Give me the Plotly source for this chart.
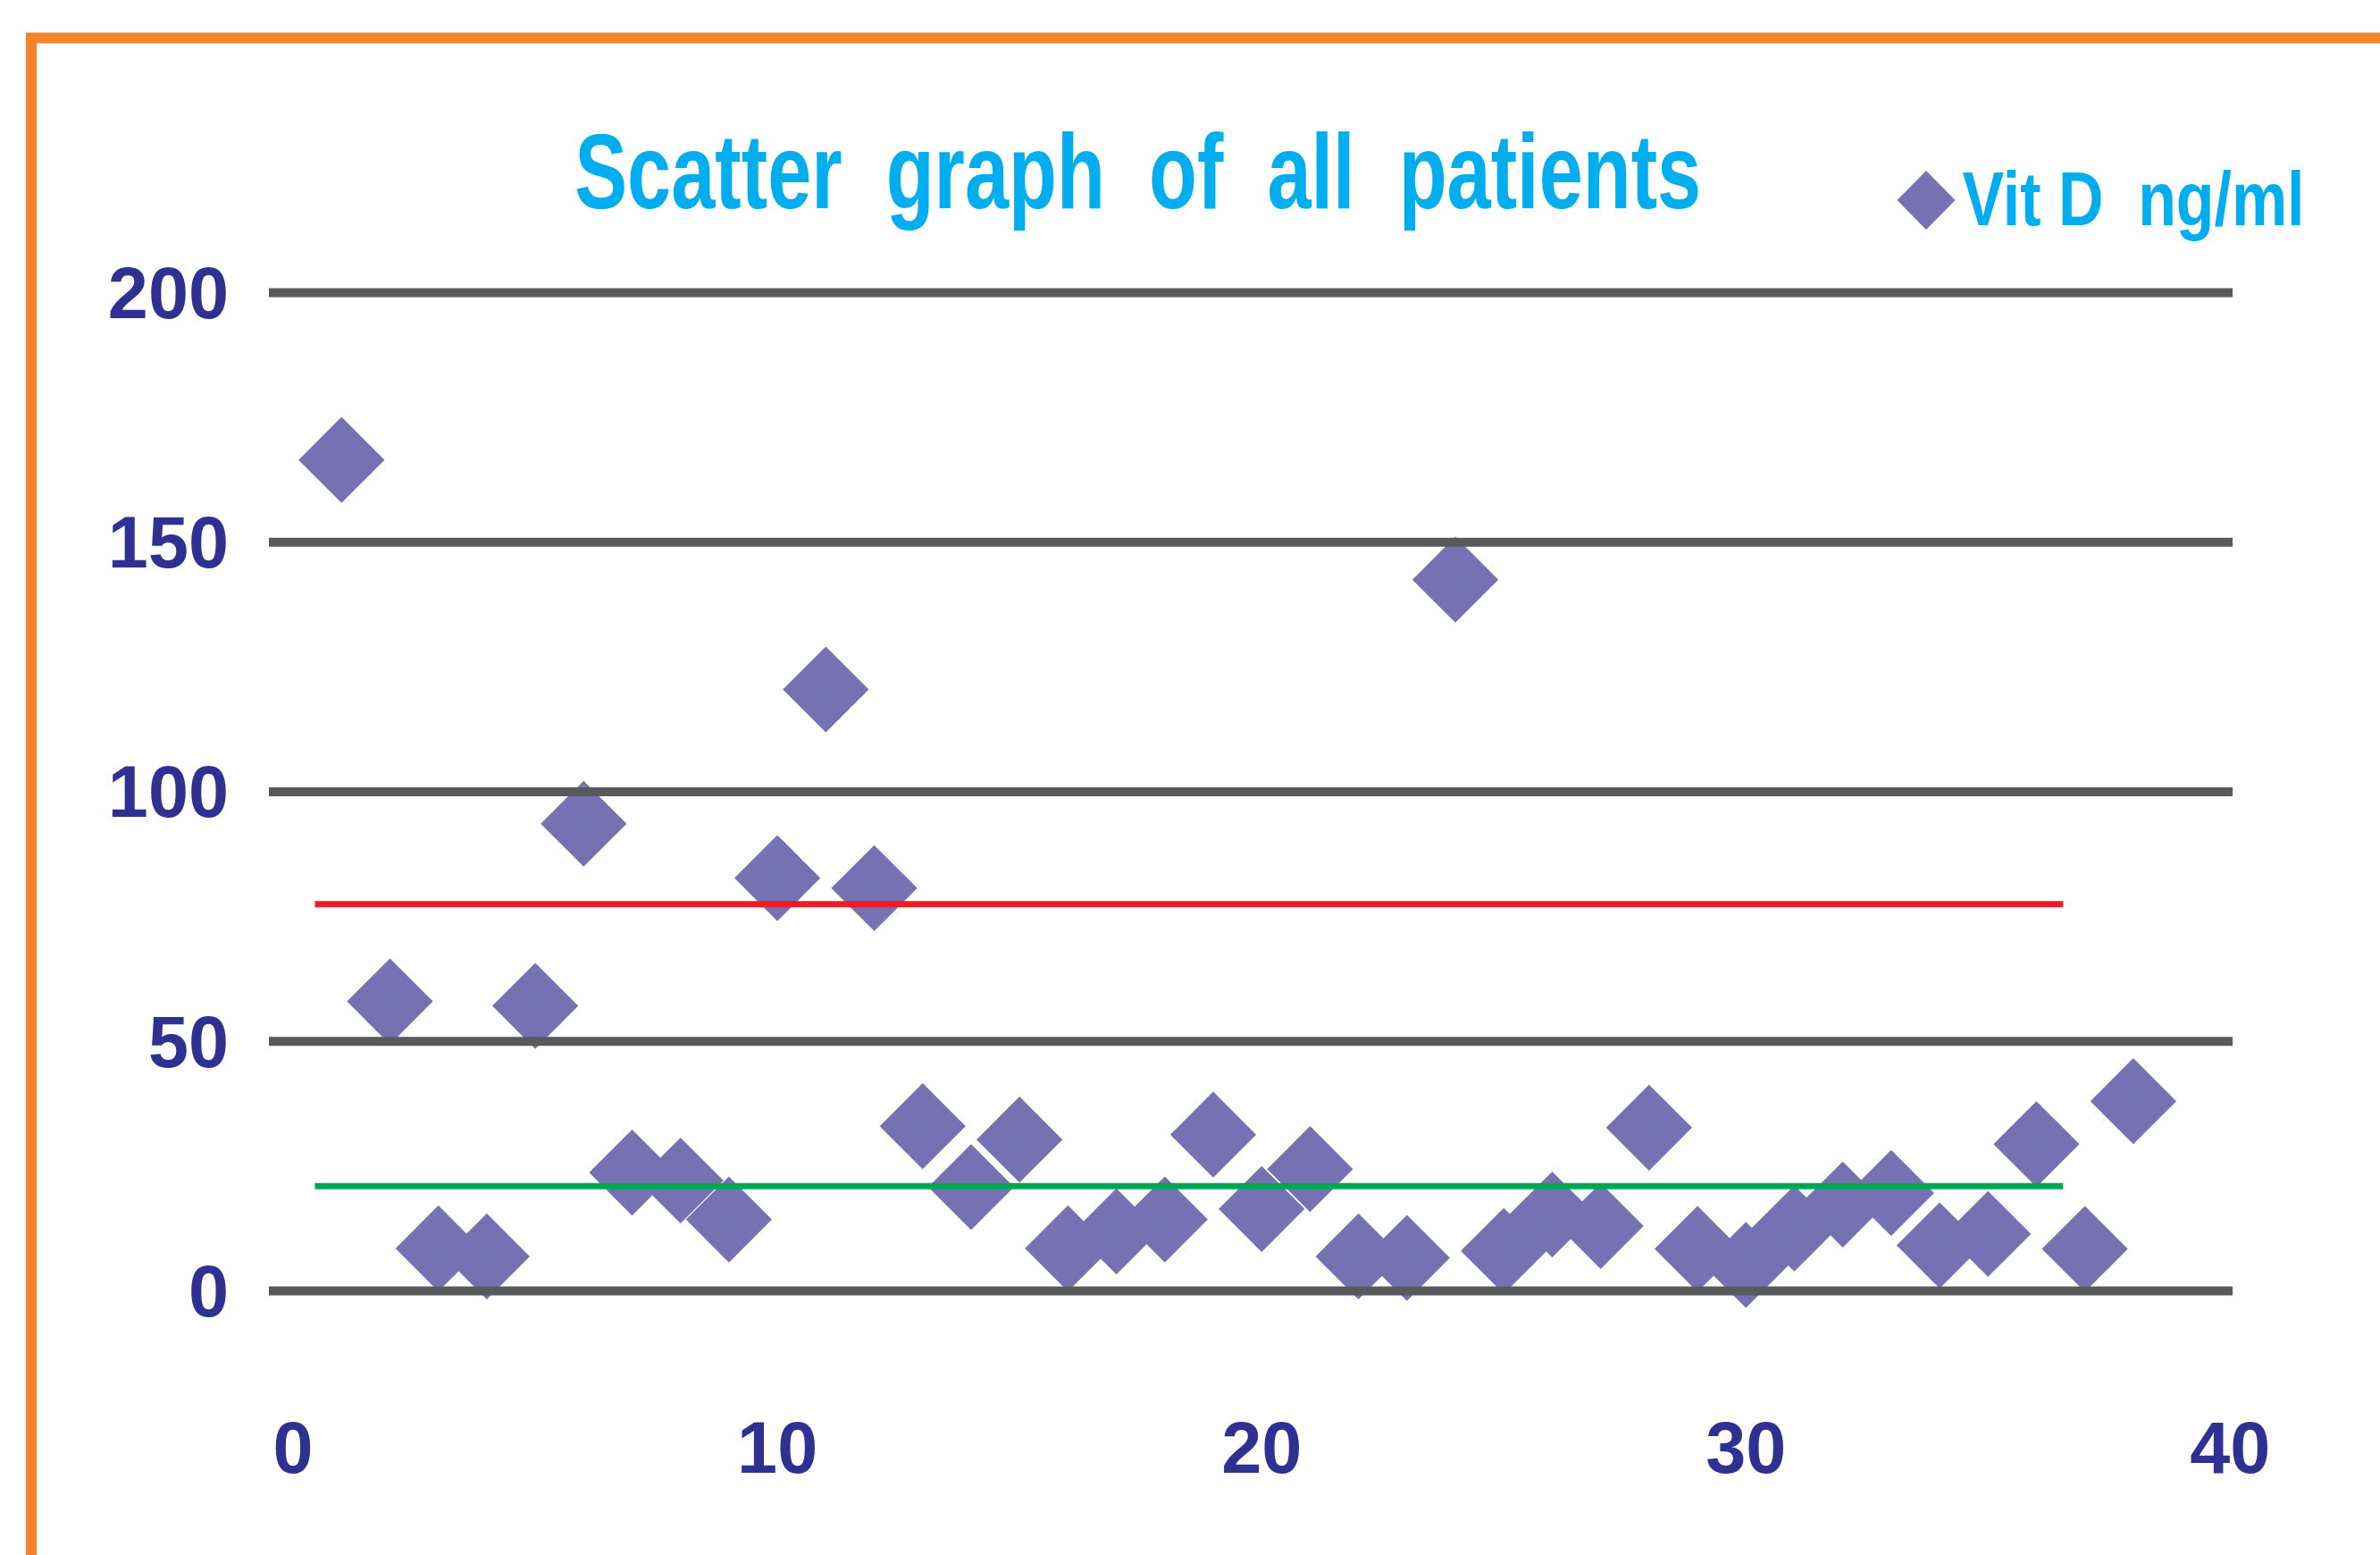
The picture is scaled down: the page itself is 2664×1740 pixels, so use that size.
import plotly.graph_objects as go

# ---- data ----
patient_no = list(range(1, 39))
vit_d = [166.5, 58.0, 8.5, 6.9, 57.1, 93.6, 23.7, 22.1, 14.3, 82.7,
         120.5, 80.7, 33.0, 20.8, 30.3, 8.5, 11.9, 14.3, 31.3, 16.4,
         24.4, 6.9, 6.6, 142.5, 8.0, 15.3, 13.0, 32.7, 8.4, 5.2,
         12.5, 17.3, 19.6, 9.1, 11.4, 29.4, 8.4, 38.0]
ref_x = [0.45, 36.55]
upper_ref = 77.5
lower_ref = 21.0
x_ticks = [0, 10, 20, 30, 40]
y_ticks = [0, 50, 100, 150, 200]
series_name = "Vit D  ng/ml"
title_text = "Scatter  graph  of  all  patients"

# ---- geometry (pixels) ----
W, H = 2664, 1740
L, R, T, B = 301, 165, 322, 290
PW, PH = W - L - R, H - T - B

def px_x(p):
    return (p - L) / PW

def px_y(p):
    return (H - B - p) / PH

SANS = "Liberation Sans, Arial, sans-serif"
MARKER = "#7671B3"
CYAN = "#00AEEF"
NAVY = "#2E3192"

fig = go.Figure()
fig.add_trace(go.Scatter(
    x=patient_no, y=vit_d, mode="markers", name=series_name,
    marker=dict(symbol="diamond", size=74, color=MARKER, line=dict(width=0)),
    cliponaxis=False, showlegend=False))
fig.add_trace(go.Scatter(
    x=ref_x, y=[upper_ref] * len(ref_x), mode="lines",
    line=dict(color="#ED1C24", width=7), showlegend=False, cliponaxis=False))
fig.add_trace(go.Scatter(
    x=ref_x, y=[lower_ref] * len(ref_x), mode="lines",
    line=dict(color="#00A651", width=7), showlegend=False, cliponaxis=False))

shapes = []
# horizontal gridlines drawn above the markers
for v in y_ticks:
    shapes.append(dict(type="line", xref="paper", yref="y", x0=0, x1=1, y0=v, y1=v,
                       line=dict(color="#58595B", width=10), layer="above"))
# orange frame
shapes.append(dict(type="rect", xref="paper", yref="paper",
                   x0=px_x(35), x1=px_x(2800), y0=px_y(1900), y1=px_y(42.5),
                   line=dict(color="#F48427", width=12), fillcolor="rgba(0,0,0,0)",
                   layer="above"))
# legend diamond
xc, yc = px_x(2156), px_y(224)
dx, dy = 32.5 / PW, 33 / PH
shapes.append(dict(type="path", xref="paper", yref="paper",
                   path=f"M {xc-dx},{yc} L {xc},{yc+dy} L {xc+dx},{yc} L {xc},{yc-dy} Z",
                   fillcolor=MARKER, line=dict(width=0), layer="above"))

annotations = [
    dict(text=title_text, xref="paper", yref="paper", x=px_x(1273), y=px_y(191),
         xanchor="center", yanchor="middle", showarrow=False,
         font=dict(family=SANS, size=119, color=CYAN, weight="bold")),
    dict(text=series_name, xref="paper", yref="paper", x=px_x(2388), y=px_y(223),
         xanchor="center", yanchor="middle", showarrow=False,
         font=dict(family=SANS, size=85, color=CYAN, weight="bold")),
]

tickfont = dict(family=SANS, size=81, color=NAVY, weight="bold")
fig.update_layout(
    width=W, height=H,
    margin=dict(l=L, r=R, t=T, b=B, pad=0),
    paper_bgcolor="white", plot_bgcolor="white",
    showlegend=False,
    shapes=shapes, annotations=annotations,
    xaxis=dict(range=[-0.5, 40.05], tickvals=x_ticks, ticks="", showgrid=False,
               zeroline=False, showline=False, tickfont=tickfont,
               ticklabelstandoff=116),
    yaxis=dict(range=[-1, 201], tickvals=y_ticks, ticks="", showgrid=False,
               zeroline=False, showline=False, tickfont=tickfont,
               ticklabelstandoff=44),
)

# narrow (condensed) rendering of title and legend text, and no page margin
post = """
document.body.style.margin = '0';
var gd = document.getElementById('{plot_id}');
function squeeze() {
  gd.querySelectorAll('text.annotation-text').forEach(function (t) {
    var s = t.textContent.replace(/\\u00a0/g, ' ');
    var w = null;
    if (s.indexOf('Scatter') === 0) { w = 1261; }
    else if (s.indexOf('Vit') === 0) { w = 383; }
    if (w) {
      t.setAttribute('textLength', w);
      t.setAttribute('lengthAdjust', 'spacingAndGlyphs');
    }
  });
}
squeeze();
gd.on('plotly_afterplot', squeeze);
"""

fig.write_html("out.html", post_script=post, config={"displayModeBar": False})
